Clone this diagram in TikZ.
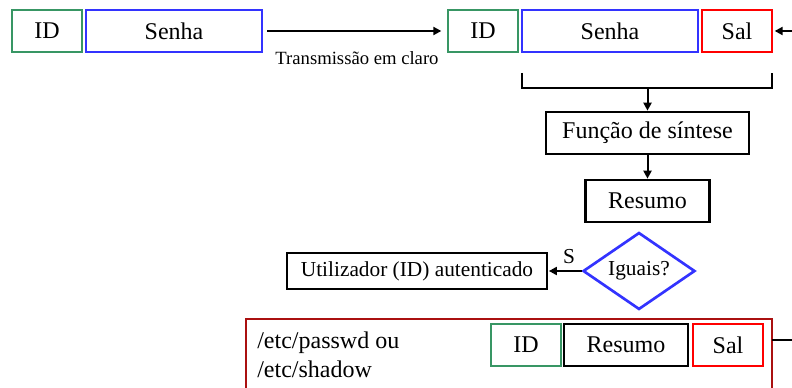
\documentclass[tikz,border=0pt]{standalone}
\usepackage{fontspec}
\setmainfont{Liberation Serif}
\usetikzlibrary{shapes.geometric,arrows.meta}
\definecolor{idgreen}{RGB}{56,150,100}
\definecolor{pwblue}{RGB}{51,51,255}
\definecolor{saltred}{RGB}{255,0,0}
\definecolor{filered}{RGB}{170,16,16}
\begin{document}
\begin{tikzpicture}[x=0.75pt,y=-0.75pt,
  field/.style={draw, line width=2pt, inner sep=0pt, minimum height=31.5pt,
    font=\fontsize{18}{21}\selectfont},
  idf/.style={field, draw=idgreen, minimum width=52.5pt},
  pwf/.style={field, draw=pwblue, minimum width=132pt},
  saltf/.style={field, draw=saltred, minimum width=52.5pt},
  stepbox/.style={field, draw=black},
  arr/.style={line width=1.5pt, -{Triangle[length=6pt,width=6pt]}},
  bar/.style={line width=2pt}]
\useasboundingbox (0,0) rectangle (792,388);

% credentials sent by the user
\node[idf] (id1) at (47,31) {ID};
\node[pwf] (pw1) at (174,31) {Senha};

% credentials plus salt on the server side
\node[idf] (id2) at (483,31) {ID};
\node[pwf] (pw2) at (610,31) {Senha};
\node[saltf] (salt2) at (737,31) {Sal};

\draw[arr, shorten <=3pt, shorten >=4pt] (pw1) -- (id2);
\node[font=\fontsize{14}{16}\selectfont] (clear) at (357,58) {Transmissão em claro};

\coordinate (saltin) at (792,31);
\draw[arr, shorten >=1pt] (saltin) -- (salt2);

% bracket joining password and salt
\coordinate (bl) at (522,73);
\coordinate (br) at (772,73);
\coordinate (bm) at (647.5,88);
\draw[bar] (bl) |- (bm) -| (br);

\node[stepbox, minimum width=152.25pt] (hash) at (647.5,133) {Função de síntese};
\draw[arr] (bm) -- (hash);

\node[stepbox, minimum width=93pt] (digest) at (647.5,201) {Resumo};
\draw[arr] (hash) -- (digest);

% comparison
\node[diamond, draw=pwblue, line width=2pt, inner sep=0pt, aspect=1.45,
  minimum width=84pt, minimum height=57.75pt,
  font=\fontsize{16}{18}\selectfont] (eq) at (639,271) {Iguais?};
\node[draw, line width=0.8pt, inner sep=0pt, minimum width=195pt, minimum height=27pt,
  font=\fontsize{16}{18}\selectfont] (auth) at (417,271) {Utilizador (ID) autenticado};
\draw[arr, shorten >=1pt] (eq) -- (auth);
\node[font=\fontsize{16}{18}\selectfont] (yes) at (569,257) {S};

% stored password file
\coordinate (fbl) at (246,388);
\coordinate (ftl) at (246,319);
\coordinate (ftr) at (772,319);
\coordinate (fbr) at (772,388);
\draw[filered, line width=2pt] (fbl) -- (ftl) -- (ftr) -- (fbr);
\node[anchor=base west, inner sep=0pt, font=\fontsize{18}{21}\selectfont] (etc1) at (257,348) {/etc/passwd ou};
\node[anchor=base west, inner sep=0pt, font=\fontsize{18}{21}\selectfont] (etc2) at (257,377) {/etc/shadow};

\node[idf] (id3) at (526,345) {ID};
\node[stepbox, minimum width=93pt] (digest3) at (626,345) {Resumo};
\node[saltf] (salt3) at (728,345) {Sal};

\coordinate (fout) at (772,340);
\coordinate (fend) at (792,340);
\draw[bar] (fout) -- (fend);
\end{tikzpicture}
\end{document}
